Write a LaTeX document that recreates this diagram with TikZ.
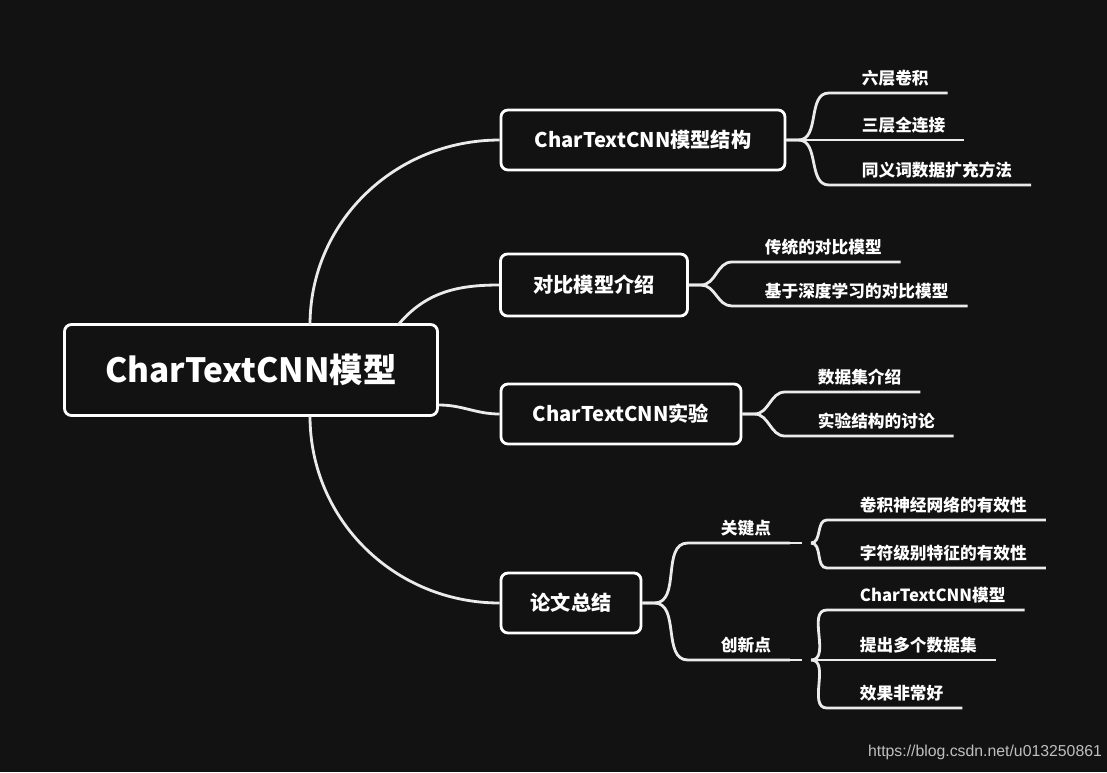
\documentclass[tikz,border=0pt]{standalone}
\usepackage{fontspec}
\setmainfont{Noto Sans CJK SC}
\setsansfont{Liberation Sans}
\begin{document}
\begin{tikzpicture}[x=0.02cm, y=-0.02cm,
    line width=1.6pt, draw=white, text=white,
    topic/.style={draw, rounded corners=4pt, fill=black!93, font=\bfseries\fontsize{11.5}{13}\selectfont, inner sep=0pt},
    leaf/.style={anchor=south west, font=\bfseries\fontsize{9.5}{11}\selectfont, inner xsep=2pt, inner ysep=3pt, align=left},
    link/.style={line width=1.6pt, white!92!black}]
    % background
    \fill[black!93] (0,0) rectangle (1107,772);
    \useasboundingbox (0,0) rectangle (1107,772);

    % main topics
    \node[topic, minimum width=373*0.02cm, minimum height=91*0.02cm, font=\bfseries\fontsize{19}{21}\selectfont] (root) at (251,370) {CharTextCNN模型};
    \node[topic, minimum width=284*0.02cm, minimum height=60*0.02cm] (struct) at (643,140) {CharTextCNN模型结构};
    \node[topic, minimum width=187*0.02cm, minimum height=62*0.02cm] (compare) at (594,285) {对比模型介绍};
    \node[topic, minimum width=240*0.02cm, minimum height=60*0.02cm] (exper) at (621,414) {CharTextCNN实验};
    \node[topic, minimum width=140*0.02cm, minimum height=60*0.02cm] (summary) at (571,603) {论文总结};

    % root links
    \draw[link] (310,325) to[out=90,in=180] (struct.west);
    \draw[link] (398,325) to[out=50,in=180] (compare.west);
    \draw[link] (root.east) ++(0,35) to[out=0,in=180] (exper.west);
    \draw[link] (310,416) to[out=-90,in=180] (summary.west);

    % leaves
    \node[leaf] (l11) at (857,93) {六层卷积};
    \node[leaf] (l12) at (857,140) {三层全连接};
    \node[leaf] (l13) at (857,185) {同义词数据扩充方法};
    \node[leaf] (l21) at (760,262) {传统的对比模型};
    \node[leaf] (l22) at (760,306) {基于深度学习的对比模型};
    \node[leaf] (l31) at (813,392) {数据集介绍};
    \node[leaf] (l32) at (813,436) {实验结构的讨论};
    \node[leaf] (key) at (716,543) {关键点};
    \node[leaf] (new) at (716,660) {创新点};
    \node[leaf] (k1) at (855,520) {卷积神经网络的有效性};
    \node[leaf] (k2) at (855,568) {字符级别特征的有效性};
    \node[leaf] (n1) at (855,610) {CharTextCNN模型};
    \node[leaf] (n2) at (855,660) {提出多个数据集};
    \node[leaf] (n3) at (855,708) {效果非常好};

    % leaf links
    \foreach \p/\c in {struct/l11, struct/l12, struct/l13, compare/l21, compare/l22, exper/l31, exper/l32, summary/key, summary/new}
        \draw[link] (\p.east) -- ++(12,0) to[out=0,in=180] ([xshift=-16]\c.south west) -- ([xshift=8]\c.south east);
    \foreach \p/\c in {key/k1, key/k2, new/n1, new/n2, new/n3}
        \draw[link] ([xshift=20]\p.south east) to[out=0,in=180] ([xshift=-16]\c.south west) -- ([xshift=8]\c.south east);
    \draw[link] ([xshift=8]key.south east) -- ++(12,0);
    \draw[link] ([xshift=8]new.south east) -- ++(12,0);

    % watermark
    \node[text=black!25, font=\sffamily\fontsize{9}{10}\selectfont] (mark) at (985,752) {https://blog.csdn.net/u013250861};
\end{tikzpicture}
\end{document}
